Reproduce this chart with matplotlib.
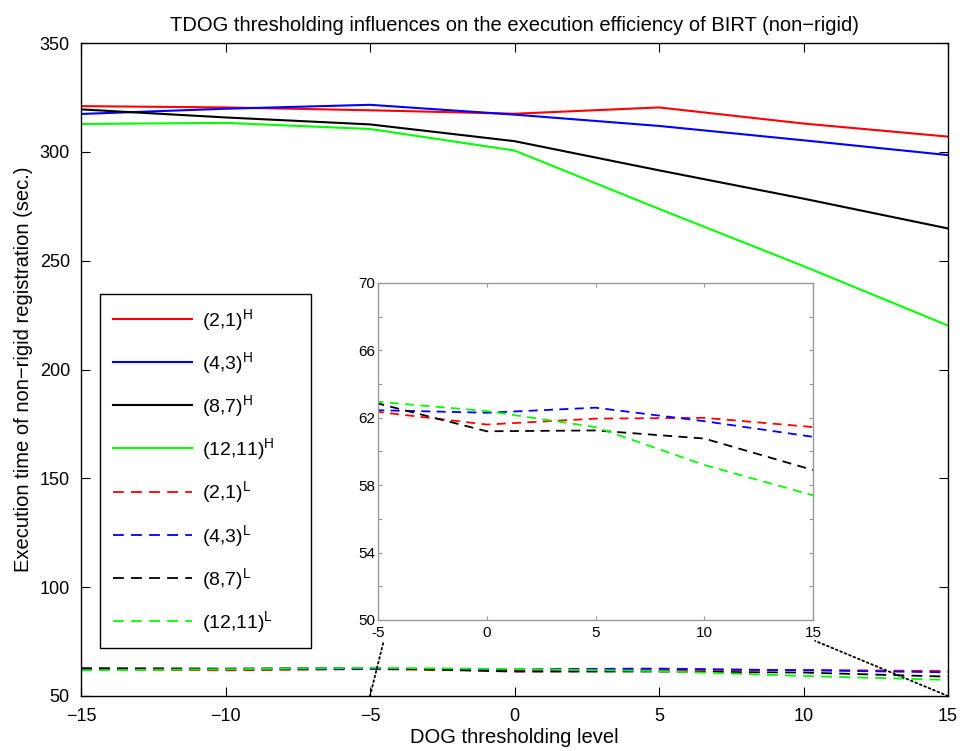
import matplotlib
matplotlib.use('Agg')
import matplotlib.pyplot as plt
from matplotlib.patches import ConnectionPatch

plt.rcParams['font.family'] = ['Liberation Sans', 'DejaVu Sans']
plt.rcParams['mathtext.fontset'] = 'custom'
plt.rcParams['mathtext.rm'] = 'Liberation Sans'

levels = [-15, -10, -5, 0, 5, 10, 15]

# H runs (solid lines)
h_21 = [321.0, 320.4, 319.1, 317.5, 320.4, 313.0, 307.0]
h_43 = [317.4, 319.8, 321.6, 317.1, 311.9, 305.3, 298.5]
h_87 = [319.5, 315.8, 312.6, 304.9, 291.5, 278.5, 264.8]
h_1211 = [312.8, 313.3, 310.5, 300.6, 273.8, 247.5, 220.2]

# L runs (dashed lines)
l_21 = [62.2, 61.8, 62.35, 61.6, 61.95, 62.0, 61.45]
l_43 = [62.5, 62.3, 62.45, 62.3, 62.6, 61.8, 60.87]
l_87 = [62.8, 62.6, 62.85, 61.2, 61.25, 60.77, 58.9]
l_1211 = [61.8, 62.3, 62.95, 62.4, 61.45, 59.2, 57.4]

labels_h = ['(2{,}1)', '(4{,}3)', '(8{,}7)', '(12{,}11)']
colors = ['#ff0000', '#0000ff', '#000000', '#00ff00']

fig = plt.figure(figsize=(9.63, 7.51), dpi=100)
ax = fig.add_axes([81/963, 55/751, 867/963, 653/751])

for ys, lab, c in zip([h_21, h_43, h_87, h_1211], labels_h, colors):
    ax.plot(levels, ys, color=c, lw=1.5, label=r'$\mathregular{%s^H}$' % lab)
for ys, lab, c in zip([l_21, l_43, l_87, l_1211], labels_h, colors):
    ax.plot(levels, ys, color=c, lw=1.3, ls=(0, (6, 4)), label=r'$\mathregular{%s^L}$' % lab)

ax.set_xlim(-15, 15)
ax.set_ylim(50, 350)
ax.set_xticks(range(-15, 16, 5))
ax.set_yticks(range(50, 351, 50))
ax.tick_params(direction='in', length=6.5, width=0.8, top=True, right=True, labelsize=13)
ax.tick_params(axis='y', pad=8)
ax.tick_params(axis='x', pad=8.5)
for s in ax.spines.values():
    s.set_linewidth(1.0)
ax.set_title('TDOG thresholding influences on the execution efficiency of BIRT (non\u2212rigid)',
             fontsize=14.5, pad=9)
ax.set_xlabel('DOG thresholding level', fontsize=14.5, labelpad=2)
ax.set_ylabel('Execution time of non\u2212rigid registration (sec.)', fontsize=14.5, labelpad=5)

leg = ax.legend(loc='upper left', bbox_to_anchor=(100/963, 1 - 647/751, 211/963, 353/751),
                bbox_transform=fig.transFigure, mode='expand',
                fancybox=False, edgecolor='black', framealpha=1,
                handlelength=4.1, handletextpad=0.5, labelspacing=0.89, borderpad=0.65,
                borderaxespad=0, prop={'size': 14})
leg.get_frame().set_linewidth(1.0)

# zoomed inset
axin = fig.add_axes([378/963, 131/751, 435/963, 337/751])
for ys, c in zip([l_21, l_43, l_87, l_1211], colors):
    axin.plot(levels, ys, color=c, lw=1.3, ls=(0, (5, 3.5)))
axin.set_xlim(-5, 15)
axin.set_ylim(50, 70)
axin.set_xticks([-5, 0, 5, 10, 15])
axin.set_xticklabels(['-5', '0', '5', '10', '15'])
axin.set_yticks(range(50, 71, 2))
axin.set_yticklabels([str(v) if v % 4 == 2 else '' for v in range(50, 71, 2)])
axin.tick_params(direction='in', length=3, width=0.8, color='#999999', top=True, right=True,
                 labelsize=11, pad=2)
axin.tick_params(axis='x', pad=4)
for s in axin.spines.values():
    s.set_color('#999999')
    s.set_linewidth(1.0)

# dotted connector lines
for xa, xb, yb in [(-5, 0.012, -0.068), (15, 1.005, -0.062)]:
    con = ConnectionPatch(xyA=(xa, 50), coordsA=ax.transData, xyB=(xb, yb), coordsB=axin.transAxes,
                          linestyle=':', color='black', lw=1.3)
    fig.add_artist(con)

fig.savefig('out.png', dpi=100)
